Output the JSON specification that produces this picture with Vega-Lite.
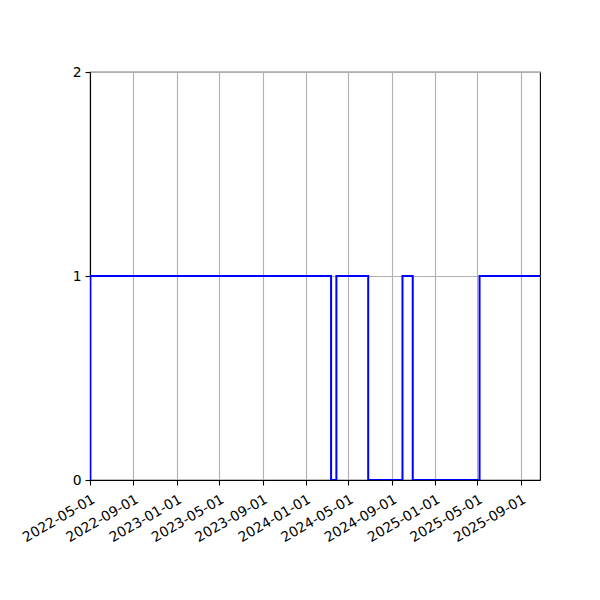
{
  "$schema": "https://vega.github.io/schema/vega-lite/v6.json",
  "width": 450,
  "height": 408,
  "autosize": {"type": "none"},
  "padding": {"left": 90, "top": 72, "right": 60, "bottom": 120},
  "background": "white",
  "config": {
    "view": {"stroke": "black", "strokeWidth": 1.1},
    "font": "DejaVu Sans",
    "axis": {
      "labelFont": "DejaVu Sans",
      "labelFontSize": 13.9,
      "labelColor": "black",
      "domainColor": "black",
      "domainWidth": 1.1,
      "tickColor": "black",
      "tickSize": 5,
      "tickWidth": 1.1,
      "gridColor": "#b0b0b0",
      "gridWidth": 1.1,
      "title": null
    }
  },
  "data": {
    "values": [
      {"date": "2022-05-01", "value": 0},
      {"date": "2022-05-02", "value": 1},
      {"date": "2024-03-13", "value": 0},
      {"date": "2024-03-28", "value": 1},
      {"date": "2024-06-26", "value": 0},
      {"date": "2024-10-01", "value": 1},
      {"date": "2024-10-30", "value": 0},
      {"date": "2025-05-07", "value": 1},
      {"date": "2025-10-25", "value": 1}
    ]
  },
  "mark": {"type": "line", "interpolate": "step-after", "color": "#0000ff", "strokeWidth": 2, "clip": true},
  "encoding": {
    "x": {
      "field": "date",
      "type": "temporal",
      "scale": {
        "type": "utc",
        "domain": [
          {"year": 2022, "month": 5, "date": 1, "utc": true},
          {"year": 2025, "month": 10, "date": 25, "utc": true}
        ]
      },
      "axis": {
        "values": [
          {"year": 2022, "month": 5, "date": 1, "utc": true},
          {"year": 2022, "month": 9, "date": 1, "utc": true},
          {"year": 2023, "month": 1, "date": 1, "utc": true},
          {"year": 2023, "month": 5, "date": 1, "utc": true},
          {"year": 2023, "month": 9, "date": 1, "utc": true},
          {"year": 2024, "month": 1, "date": 1, "utc": true},
          {"year": 2024, "month": 5, "date": 1, "utc": true},
          {"year": 2024, "month": 9, "date": 1, "utc": true},
          {"year": 2025, "month": 1, "date": 1, "utc": true},
          {"year": 2025, "month": 5, "date": 1, "utc": true},
          {"year": 2025, "month": 9, "date": 1, "utc": true}
        ],
        "format": "%Y-%m-%d",
        "labelAngle": -30,
        "labelAlign": "right",
        "labelBaseline": "top",
        "labelPadding": 7,
        "labelDx": -3,
        "labelOverlap": false,
        "labelFlush": false,
        "grid": true
      }
    },
    "y": {
      "field": "value",
      "type": "quantitative",
      "scale": {"domain": [0, 2], "nice": false, "zero": false},
      "axis": {"values": [0, 1, 2], "format": ".0f", "labelOverlap": false, "labelFlush": false, "grid": true, "labelPadding": 4}
    }
  }
}
